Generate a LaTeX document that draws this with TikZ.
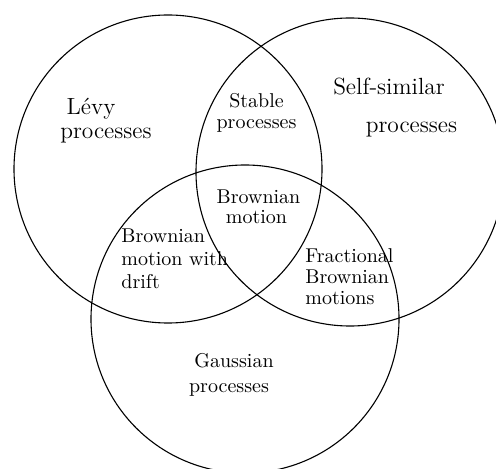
\documentclass[tikz,border=0pt]{standalone}
\begin{document}
\begin{tikzpicture}[x=0.5pt,y=-0.5pt,
  setc/.style={draw, circle, minimum size=154pt, inner sep=0pt, line width=0.55pt},
  bigt/.style={inner sep=0pt, anchor=base, font=\fontsize{11.7pt}{14pt}\selectfont},
  smallt/.style={inner sep=0pt, anchor=base, font=\fontsize{10pt}{11pt}\selectfont},
  smallw/.style={smallt, anchor=base west}]
\useasboundingbox (0,0) rectangle (496,469);
\begin{scope}
\clip (0,0) rectangle (496,469);
\node[setc] (levy) at (168,169) {};
\node[setc] (self) at (350,172) {};
\node[setc] (gauss) at (245,319) {};
\end{scope}
% Levy
\node[bigt] (lev1) at (91,115) {L\'evy};
\node[bigt] (lev2) at (106,139) {processes};
% Self-similar
\node[bigt] (ss1) at (389,95) {Self-similar};
\node[bigt] (ss2) at (411.5,133) {processes};
% Stable
\node[smallt] (st1) at (256.5,108) {Stable};
\node[smallt] (st2) at (256.5,129) {processes};
% Brownian motion
\node[smallt] (bm1) at (258.5,204) {Brownian};
\node[smallt] (bm2) at (256.5,224) {motion};
% Brownian motion with drift
\node[smallw] (bd1) at (121,243) {Brownian};
\node[smallw] (bd2) at (121,266) {motion with};
\node[smallw] (bd3) at (121,288) {drift};
% Fractional Brownian motions
\node[smallw] (fb1) at (305,263) {Fractional};
\node[smallw] (fb2) at (305,284) {Brownian};
\node[smallw] (fb3) at (305,305) {motions};
% Gaussian
\node[smallt] (g1) at (234,367) {Gaussian};
\node[smallt] (g2) at (229,392) {processes};
\end{tikzpicture}
\end{document}
